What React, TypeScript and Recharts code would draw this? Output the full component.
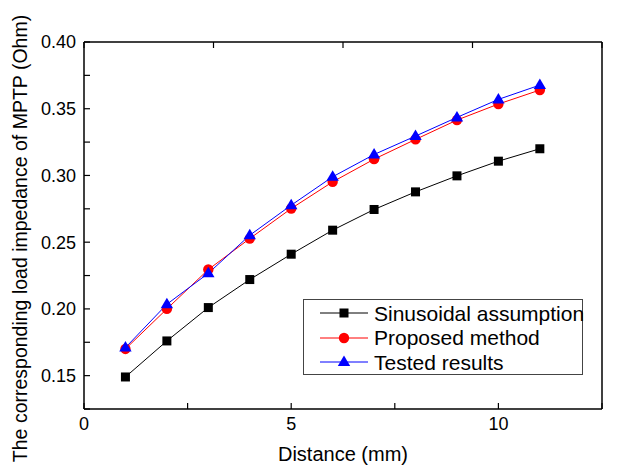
import { Legend, Line, LineChart, XAxis, YAxis } from "recharts";

const FONT = "'Liberation Sans', Arial, Helvetica, sans-serif";

const DISTANCE = [1, 2, 3, 4, 5, 6, 7, 8, 9, 10, 11];
const SINUSOIDAL = [0.149, 0.176, 0.201, 0.222, 0.241, 0.259, 0.2745, 0.2877, 0.2997, 0.3107, 0.32];
const PROPOSED = [0.17, 0.2, 0.2295, 0.2527, 0.2752, 0.2952, 0.3122, 0.327, 0.3415, 0.3535, 0.364];
const TESTED = [0.171, 0.2035, 0.2267, 0.2552, 0.2777, 0.299, 0.3157, 0.3295, 0.3435, 0.357, 0.3677];

const X_TICKS = [0, 2.5, 5, 7.5, 10, 12.5];
const X_LABELS = [0, 5, 10];
const Y_TICKS = [0.125, 0.15, 0.175, 0.2, 0.225, 0.25, 0.275, 0.3, 0.325, 0.35, 0.375, 0.4];
const Y_LABELS = ["0.15", "0.20", "0.25", "0.30", "0.35", "0.40"];

const SERIES = [
  { key: "sin", name: "Sinusoidal assumption", color: "#000000", shape: "square" },
  { key: "prop", name: "Proposed method", color: "#ff0000", shape: "circle" },
  { key: "test", name: "Tested results", color: "#0000ff", shape: "triangle" },
];

const data = DISTANCE.map((x, i) => ({ x, sin: SINUSOIDAL[i], prop: PROPOSED[i], test: TESTED[i] }));

const TICK_LEN = 6;
const AXIS_LINE = { stroke: "#000", strokeWidth: 1.5 };

function Marker({ shape, cx, cy, color }: { shape: string; cx: number; cy: number; color: string }) {
  if (shape === "square") return <rect x={cx - 4.5} y={cy - 4.5} width={9} height={9} fill={color} />;
  if (shape === "circle") return <circle cx={cx} cy={cy} r={5.2} fill={color} />;
  return <polygon points={`${cx},${cy - 6.5} ${cx + 6.2},${cy + 4} ${cx - 6.2},${cy + 4}`} fill={color} />;
}

function dotFor(shape: string, color: string) {
  return (p: any) => <Marker key={p.index} shape={shape} cx={p.cx} cy={p.cy} color={color} />;
}

function BottomTick({ x, y, payload }: any) {
  const v = payload.value;
  return (
    <g>
      <line x1={x} x2={x} y1={y} y2={y - TICK_LEN} stroke="#000" strokeWidth={1.2} />
      {X_LABELS.includes(v) && (
        <text x={x} y={y + 21} textAnchor="middle" fontSize={18} fontFamily={FONT} fill="#000">
          {v}
        </text>
      )}
    </g>
  );
}

function TopTick({ x, y }: any) {
  return <line x1={x} x2={x} y1={y} y2={y + TICK_LEN} stroke="#000" strokeWidth={1.2} />;
}

function LeftTick({ x, y, payload }: any) {
  const label = payload.value.toFixed(2);
  return (
    <g>
      <line x1={x} x2={x + TICK_LEN} y1={y} y2={y} stroke="#000" strokeWidth={1.2} />
      {Y_LABELS.includes(label) && (
        <text x={x - 8} y={y} dy="0.36em" textAnchor="end" fontSize={18} fontFamily={FONT} fill="#000">
          {label}
        </text>
      )}
    </g>
  );
}

function RightTick({ x, y }: any) {
  return <line x1={x} x2={x - TICK_LEN} y1={y} y2={y} stroke="#000" strokeWidth={1.2} />;
}

function LegendBox() {
  return (
    <div
      style={{
        width: 278,
        height: 73,
        border: "1px solid #444",
        background: "#fff",
        fontFamily: FONT,
        fontSize: 21,
        color: "#000",
        paddingTop: 1,
        boxSizing: "content-box",
      }}
    >
      {SERIES.map((s) => (
        <div key={s.key} style={{ display: "flex", alignItems: "center", height: 24.5 }}>
          <svg width={70} height={20} style={{ flex: "none" }}>
            <line x1={16} x2={64} y1={10} y2={10} stroke={s.color} strokeWidth={1} />
            <Marker shape={s.shape} cx={40} cy={10} color={s.color} />
          </svg>
          <span style={{ lineHeight: 1, whiteSpace: "nowrap" }}>{s.name}</span>
        </div>
      ))}
    </div>
  );
}

export default function App() {
  return (
    <div style={{ position: "absolute", left: 0, top: 0, background: "#fff" }}>
      <LineChart width={625} height={465} data={data} margin={{ top: 41, right: 22, bottom: 6, left: 24 }}>
        <XAxis
          dataKey="x"
          type="number"
          domain={[0, 12.5]}
          ticks={X_TICKS}
          interval={0}
          height={50}
          tickLine={false}
          tickSize={0}
          tickMargin={0}
          axisLine={AXIS_LINE}
          tick={<BottomTick />}
          label={{
            content: ({ viewBox }: any) => (
              <text
                x={viewBox.x + viewBox.width / 2}
                y={viewBox.y + 52}
                textAnchor="middle"
                fontSize={20}
                fontFamily={FONT}
                fill="#000"
              >
                Distance (mm)
              </text>
            ),
          }}
        />
        <XAxis
          xAxisId="top"
          orientation="top"
          type="number"
          domain={[0, 12.5]}
          ticks={X_TICKS}
          interval={0}
          height={1}
          tickLine={false}
          tickSize={0}
          tickMargin={0}
          axisLine={AXIS_LINE}
          tick={<TopTick />}
        />
        <YAxis
          type="number"
          domain={[0.125, 0.4]}
          ticks={Y_TICKS}
          interval={0}
          width={60}
          tickLine={false}
          tickSize={0}
          tickMargin={0}
          axisLine={AXIS_LINE}
          tick={<LeftTick />}
          label={{
            content: ({ viewBox }: any) => {
              const cx = 20;
              const cy = viewBox.y + viewBox.height / 2 + 13;
              return (
                <text
                  x={cx}
                  y={cy}
                  transform={`rotate(-90 ${cx} ${cy})`}
                  textAnchor="middle"
                  dy="0.36em"
                  fontSize={19.5}
                  fontFamily={FONT}
                  fill="#000"
                >
                  The corresponding load impedance of MPTP (Ohm)
                </text>
              );
            },
          }}
        />
        <YAxis
          yAxisId="right"
          orientation="right"
          type="number"
          domain={[0.125, 0.4]}
          ticks={Y_TICKS}
          interval={0}
          width={1}
          tickLine={false}
          tickSize={0}
          tickMargin={0}
          axisLine={AXIS_LINE}
          tick={<RightTick />}
        />
        <Legend
          layout="horizontal"
          align="center"
          verticalAlign="middle"
          content={<LegendBox />}
          wrapperStyle={{ left: 303, top: 299, width: 280, height: 75 }}
        />
        {SERIES.map((s) => (
          <Line
            key={s.key}
            dataKey={s.key}
            name={s.name}
            type="linear"
            stroke={s.color}
            strokeWidth={1}
            dot={dotFor(s.shape, s.color)}
            activeDot={false}
            isAnimationActive={false}
          />
        ))}
      </LineChart>
    </div>
  );
}
